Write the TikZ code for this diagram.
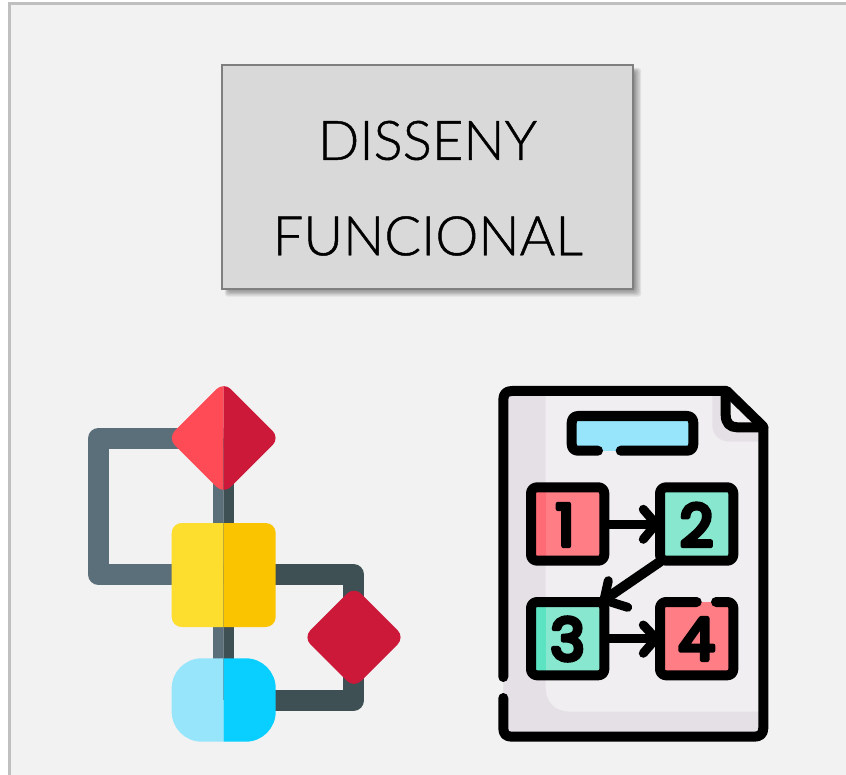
\documentclass[tikz,border=0pt]{standalone}
\usepackage{fontspec}
\setmainfont{Lato Light}
\newfontfamily\digitfont{Poppins}
\definecolor{bgpanel}{HTML}{F2F2F2}
\definecolor{framegray}{HTML}{BFBFBF}
\definecolor{boxfill}{HTML}{D9D9D9}
\definecolor{boxline}{HTML}{7F7F7F}
\definecolor{pipeL}{HTML}{5A6F79}
\definecolor{pipeR}{HTML}{3F5055}
\definecolor{redL}{HTML}{FF4B55}
\definecolor{redR}{HTML}{CC1939}
\definecolor{yelL}{HTML}{FDDD2E}
\definecolor{yelR}{HTML}{FAC400}
\definecolor{bluL}{HTML}{97E5FB}
\definecolor{bluR}{HTML}{08CFFF}
\definecolor{pageL}{HTML}{F1EEF2}
\definecolor{pageD}{HTML}{E4E0E5}
\definecolor{pink}{HTML}{FF7E85}
\definecolor{pinkD}{HTML}{FF6B75}
\definecolor{mint}{HTML}{87E8CF}
\definecolor{mintD}{HTML}{5CE3C1}
\newcommand{\rounddigit}[1]{\special{pdf:code 2 Tr 4.5 w 1 j 1 J}{\digitfont #1}\special{pdf:code 0 Tr 1 w}}
\newcommand{\firmtext}[1]{\special{pdf:code 2 Tr 0.45 w}#1\special{pdf:code 0 Tr 1 w}}
\tikzset{
  pipe/.style={line width=21pt,line join=round},
  ink/.style={line width=10pt,line cap=round,line join=round,draw=black},
  thinink/.style={line width=9pt,line cap=round,line join=round,draw=black},
  titlebox/.style={draw=boxline,line width=1.5pt,fill=boxfill,minimum width=411pt,minimum height=224pt,inner sep=0pt},
  titletext/.style={font=\fontsize{54.5}{60}\selectfont,inner sep=0pt,text=black},
  digit/.style={font=\fontsize{58}{60}\selectfont,inner sep=0pt,text=black}
}
\begin{document}
\begin{tikzpicture}[x=1pt,y=-1pt]
\useasboundingbox (0,0) rectangle (846,775);
\fill[white] (0,0) rectangle (846,775);
\fill[bgpanel] (9,4) rectangle (846,775);
\draw[framegray,line width=3pt] (9,775) -- (9,4) -- (846,4);
% title shadow
\foreach \d in {0,1.5,3,4.5,6,7.5,9}{
  \fill[black,opacity=0.075,rounded corners=3pt] (222+7-\d*0.45,65+7-\d*0.45) rectangle (633.5+\d*0.85,289+\d*0.85);
}
\node[titlebox] (title) at (427.25,177) {};
\node[titletext] (t1) at (427.5,140.5) {\firmtext{DISSENY}};
\node[titletext] (t2) at (427.75,236) {\firmtext{FUNCIONAL}};

% flowchart icon: left half
\begin{scope}
\clip (0,300) rectangle (223.7,775);
\draw[pipeL,pipe] (223.7,438) -- (98.8,438) -- (98.8,574.8) -- (223.7,574.8);
\draw[pipeL,pipe] (223.7,438) -- (223.7,700);
\fill[redL,rounded corners=10pt] (223.7,382) -- (279.7,438) -- (223.7,494) -- (167.7,438) -- cycle;
\fill[yelL,rounded corners=10pt] (171.7,523) rectangle (275.7,627);
\fill[bluL,rounded corners=30pt] (171.7,658.3) rectangle (275.7,741.7);
\end{scope}
% flowchart icon: right half
\begin{scope}
\clip (223.7,300) rectangle (450,775);
\draw[pipeR,pipe] (223.7,438) -- (223.7,700);
\draw[pipeR,pipe] (223.7,574.8) -- (353.8,574.8) -- (353.8,700) -- (223.7,700);
\fill[redR,rounded corners=10pt] (223.7,382) -- (279.7,438) -- (223.7,494) -- (167.7,438) -- cycle;
\fill[yelR,rounded corners=10pt] (171.7,523) rectangle (275.7,627);
\fill[bluR,rounded corners=30pt] (171.7,658.3) rectangle (275.7,741.7);
\fill[redR,rounded corners=10pt] (354,586.6) -- (404.7,637.3) -- (354,688) -- (303.3,637.3) -- cycle;
\end{scope}

% document icon
\fill[pageL,rounded corners=8pt] (503.3,391) -- (726.7,391) -- (763.3,426.7) -- (763.3,736.7) -- (503.3,736.7) -- cycle;
\begin{scope}
\clip[rounded corners=8pt] (503.3,391) -- (726.7,391) -- (763.3,426.7) -- (763.3,736.7) -- (503.3,736.7) -- cycle;
\fill[pageD,even odd rule] (490,380) rectangle (780,745)
  (545.7,370) -- (790,370) -- (790,711.7) -- (570,711.7) .. controls (555,711.7) and (545.7,702) .. (545.7,688) -- cycle;
\fill[pageD] (712.3,391) -- (712.3,425) .. controls (712.3,435) and (720,441.7) .. (730,441.7) -- (770,441.7) -- (770,391) -- cycle;
\end{scope}
\fill[pageL] (725.7,391) -- (725.7,415) .. controls (725.7,423) and (730,427.3) .. (737,427.3) -- (763.3,427.3) -- cycle;
\draw[ink] (503.3,677) -- (503.3,400) .. controls (503.3,394) and (506,391) .. (512,391) -- (726.7,391) -- (763.3,426.7) -- (763.3,728) .. controls (763.3,734) and (760,736.7) .. (754,736.7) -- (512,736.7) .. controls (506,736.7) and (503.3,734) .. (503.3,728) -- (503.3,698);
\draw[ink] (725.7,391) -- (725.7,415) .. controls (725.7,423) and (730,427.3) .. (737,427.3) -- (763.3,427.3);

% blue label
\fill[bluL] (571.7,416) rectangle (693.3,450.7);
\draw[ink] (598,450.7) -- (578,450.7) .. controls (574,450.7) and (571.7,448) .. (571.7,444) -- (571.7,423) .. controls (571.7,419) and (574,416) .. (578,416) -- (687,416) .. controls (691,416) and (693.3,419) .. (693.3,423) -- (693.3,444) .. controls (693.3,448) and (691,450.7) .. (687,450.7) -- (620.7,450.7);

% arrows
\draw[thinink] (604,524) -- (655,524);
\draw[thinink] (643.3,509.3) -- (656,524) -- (643.3,539.3);
\draw[ink] (660,561.7) -- (604,600);
\draw[thinink] (608.3,580.7) -- (604,600) -- (627.7,607.3);
\draw[thinink] (604,638.5) -- (655,638.5);
\draw[thinink] (643.3,625) -- (656,638.5) -- (643.3,653.3);

% number boxes
\fill[pink] (531,487.3) rectangle (604.3,560.7);
\fill[pinkD] (531,487.3) rectangle (545.7,560.7);
\fill[mint] (660,487.3) rectangle (733.3,560.7);
\fill[mint] (531,602) rectangle (604.3,675.3);
\fill[mintD] (531,602) rectangle (545.7,675.3);
\fill[pink] (660,602) rectangle (733.3,675.3);
\draw[ink,rounded corners=6pt] (531,487.3) rectangle (604.3,560.7);
\draw[ink,rounded corners=6pt] (660,487.3) rectangle (733.3,560.7);
\draw[ink,rounded corners=6pt] (531,602) rectangle (604.3,675.3);
\draw[ink,rounded corners=6pt] (696.7,602) -- (660,602) -- (660,675.3) -- (733.3,675.3) -- (733.3,602) -- (716,602);

\node[digit] (n1) at (565,525) {\rounddigit{1}};
\node[digit] (n2) at (696.5,525) {\rounddigit{2}};
\node[digit] (n3) at (567.5,639) {\rounddigit{3}};
\node[digit] (n4) at (696.5,639) {\rounddigit{4}};
\end{tikzpicture}
\end{document}
